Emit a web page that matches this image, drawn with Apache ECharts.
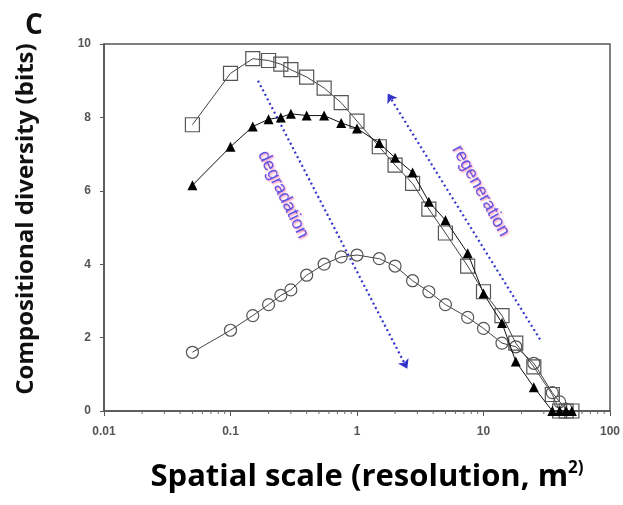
<!DOCTYPE html>
<html><head><meta charset="utf-8">
<script src="https://cdn.jsdelivr.net/npm/echarts@6/dist/echarts.min.js"></script>
<style>html,body{margin:0;padding:0;background:#fff}#c{width:623px;height:505px}</style>
</head><body><div id="c"></div>
<script>
// Spatial scale (m^2)
const scales   = [0.05,0.1,0.15,0.2,0.25,0.3,0.4,0.55,0.75,1,1.5,2,2.75,3.7,5,7.5,10,14,18,25,35,40,45,50];
const squares  = [7.8,9.2,9.6,9.55,9.45,9.3,9.1,8.8,8.4,7.9,7.2,6.7,6.2,5.5,4.85,3.95,3.25,2.6,1.85,1.2,0.45,0,0,0];
const triangles= [6.15,7.2,7.75,7.95,8.0,8.1,8.05,8.05,7.85,7.7,7.3,6.9,6.5,5.7,5.2,4.3,3.2,2.4,1.35,0.65,0,0,0,0];
const circles  = [1.6,2.2,2.6,2.9,3.15,3.3,3.7,4.0,4.2,4.25,4.15,3.95,3.55,3.25,2.9,2.55,2.25,1.85,1.75,1.3,0.5,0.25,0.05,null];
const xTickLabels = ['0.01','0.1','1','10','100'];
const yTickLabels = ['0','2','4','6','8','10'];
const minorTicks = [];
[0.01,0.1,1,10].forEach(d=>{for(let k=2;k<=9;k++) minorTicks.push(+(d*k).toPrecision(3));});
// annotation arrows (data coords)
const degradationArrow = [[0.165,9.0],[2.5,1.15]];
const regenerationArrow = [[28,1.95],[1.75,8.65]];
const degradationLabel = [0.26,5.9];
const regenerationLabel = [9.5,6.0];

function pairs(ys){return scales.map((x,i)=>ys[i]==null?null:[x,ys[i]]).filter(p=>p);}

const chart = echarts.init(document.getElementById('c'));
const lineCol = '#444';
const titleFont = 'Open Sans';
chart.setOption({
  animation:false,
  grid:{left:104,right:11,top:44,bottom:94,show:true,borderColor:'#555',borderWidth:1.5},
  graphic:[
    {type:'text',left:25,top:12,style:{text:'C',font:'bold 28px "Open Sans"',fill:'#111'}},
    {type:'text',x:26,y:219,rotation:Math.PI/2,
      style:{text:'Compositional diversity (bits)',font:'bold 24px "Open Sans"',fill:'#111',align:'center',verticalAlign:'middle'}},
    {type:'text',x:367,y:477,
      style:{text:'{a|Spatial scale (resolution, m}{s|2)}',align:'center',verticalAlign:'middle',
        rich:{a:{fontFamily:titleFont,fontWeight:'bold',fontSize:31,color:'#111'},
              s:{fontFamily:titleFont,fontWeight:'bold',fontSize:17,color:'#111',verticalAlign:'top',padding:[0,0,18,0]}}}}
  ],
  xAxis:{type:'log',logBase:10,min:0.01,max:100,
    axisLine:{show:true,lineStyle:{color:'#555',width:1.5}},
    axisTick:{show:true,inside:false,length:5,lineStyle:{color:'#555'}},
    axisLabel:{margin:15,fontFamily:'Liberation Sans',fontWeight:'bold',fontSize:12,color:'#555',
      formatter:v=>{const i=Math.round(Math.log10(v))+2;return xTickLabels[i]!==undefined?xTickLabels[i]:'';}},
    splitLine:{show:false}},
  yAxis:{type:'value',min:0,max:10,interval:2,
    axisLine:{show:true,lineStyle:{color:'#555',width:1.5}},
    axisTick:{show:true,inside:false,length:4,lineStyle:{color:'#555'}},
    axisLabel:{margin:13,fontFamily:'Liberation Sans',fontWeight:'bold',fontSize:12,color:'#555',
      formatter:v=>yTickLabels[v/2]},
    splitLine:{show:false}},
  series:[
    {type:'line',data:pairs(circles),symbol:'circle',symbolSize:12,showAllSymbol:true,
      lineStyle:{color:lineCol,width:1},itemStyle:{color:'rgba(255,255,255,0)',borderColor:'#555',borderWidth:1.2},z:3},
    {type:'line',data:pairs(squares),symbol:'rect',symbolSize:14,showAllSymbol:true,
      lineStyle:{color:lineCol,width:1},itemStyle:{color:'rgba(255,255,255,0)',borderColor:'#555',borderWidth:1.2},z:4},
    {type:'line',data:pairs(triangles),symbol:'triangle',symbolSize:10,showAllSymbol:true,
      lineStyle:{color:'#111',width:1},itemStyle:{color:'#000',borderColor:'#000',borderWidth:0},z:5},
    {type:'custom',data:minorTicks.map(v=>[v,0]),clip:false,silent:true,z:2,
      renderItem:(params,api)=>{const p=api.coord([api.value(0),0]);
        return {type:'line',shape:{x1:p[0],y1:p[1],x2:p[0],y2:p[1]+3},style:{stroke:'#666',lineWidth:1}};}},
    {type:'scatter',symbolSize:0,silent:true,z:6,
      data:[
        {value:degradationLabel,label:{show:true,formatter:'degradation',rotate:-64,position:'inside'}},
        {value:regenerationLabel,label:{show:true,formatter:'regeneration',rotate:-61,position:'inside'}}],
      label:{fontFamily:'Liberation Sans',fontSize:18,color:'#3535e6',
        textShadowColor:'rgba(255,90,140,0.9)',textShadowBlur:2,textShadowOffsetX:1,textShadowOffsetY:1},
      markLine:{silent:true,symbol:['none','arrow'],symbolSize:9,label:{show:false},
        lineStyle:{type:[2,3],color:'#3333cc',width:2.2},
        data:[
          [{coord:degradationArrow[0]},{coord:degradationArrow[1]}],
          [{coord:regenerationArrow[0]},{coord:regenerationArrow[1]}]]}}
  ]
});
</script></body></html>
